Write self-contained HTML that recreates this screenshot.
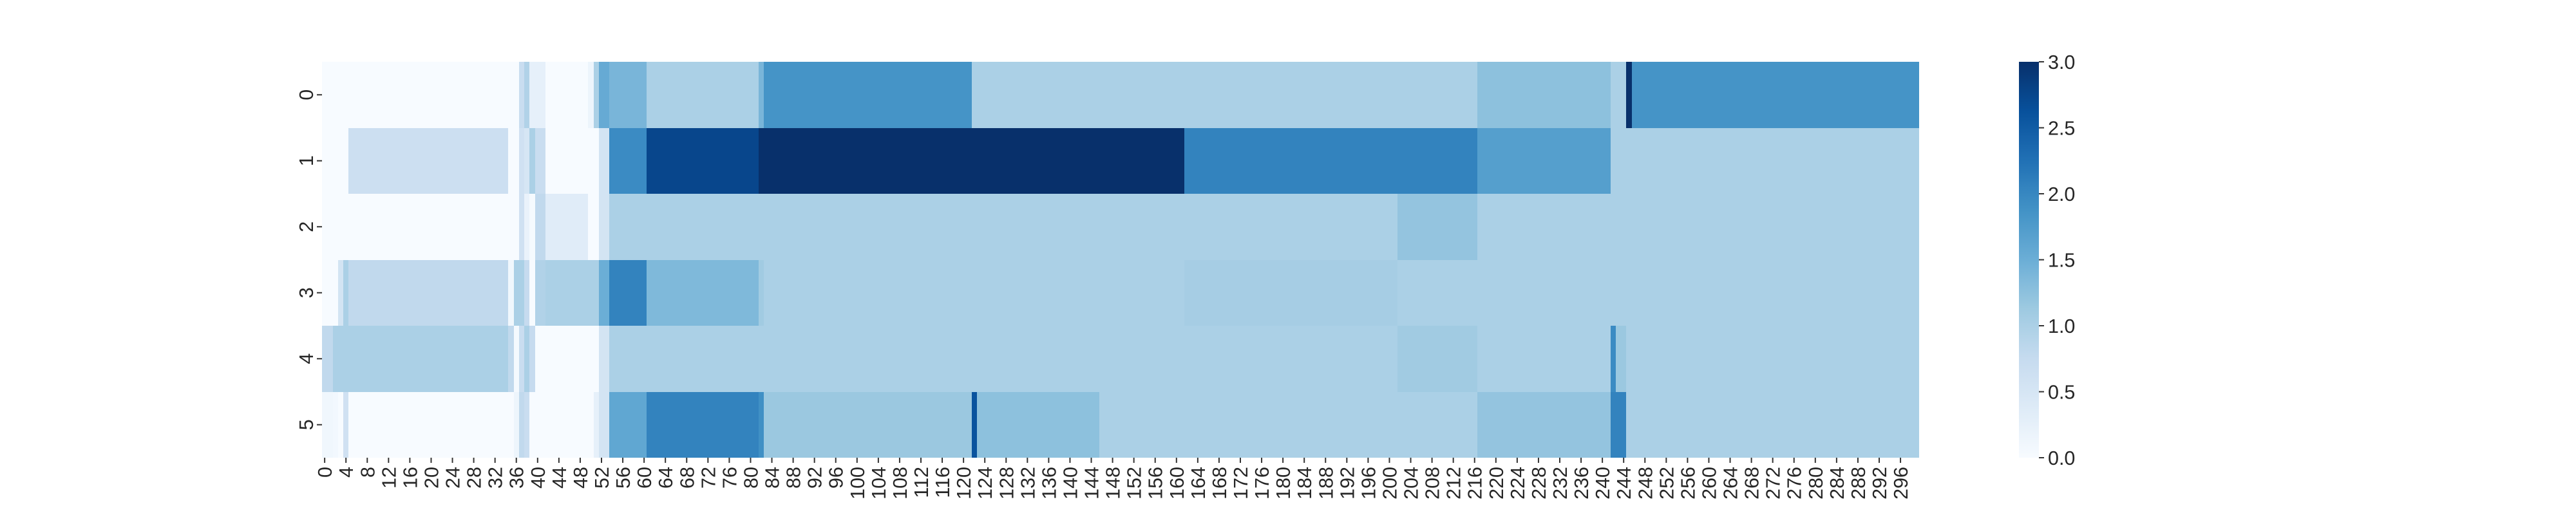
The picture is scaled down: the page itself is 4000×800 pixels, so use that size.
<!DOCTYPE html>
<html><head><meta charset="utf-8"><style>
html,body{margin:0;padding:0;background:#fff;}
svg{display:block;font-family:"Liberation Sans","DejaVu Sans",sans-serif;}
</style></head><body>
<svg id="chart" width="4000" height="800" viewBox="0 0 4000 800" xmlns="http://www.w3.org/2000/svg">
<defs><linearGradient id="cbGrad" x1="0" y1="1" x2="0" y2="0"></linearGradient></defs>
<g id="cells" shape-rendering="crispEdges"></g>
<g id="xticks"></g>
<g id="yticks"></g>
<rect x="3135" y="96" width="31" height="615" fill="url(#cbGrad)"/>
<g id="cbticks"></g>
</svg>
<script>
// run-length encoded rows: [count, value]
const row0Runs=[[37,0],[1,0.7],[1,0.95],[3,0.25],[8,0],[1,0.15],[1,1.0],[2,1.55],[7,1.4],[21,1.0],[1,1.4],[39,1.85],[95,1.0],[25,1.25],[3,1.0],[1,3.0],[54,1.85]];
const row1Runs=[[5,0],[30,0.65],[2,0],[1,0.6],[1,0.5],[1,1.0],[2,0.7],[10,0],[2,0.55],[7,1.95],[21,2.75],[80,3.0],[55,2.05],[25,1.7],[58,1.0]];
const row2Runs=[[37,0],[1,0.6],[1,0.2],[1,0.03],[2,0.8],[8,0.35],[2,0],[2,0.55],[148,1.0],[15,1.2],[83,1.0]];
const row3Runs=[[3,0],[1,0.55],[1,1.0],[30,0.8],[1,0.1],[2,1.0],[1,0.75],[1,0],[2,0.95],[10,1.0],[2,1.5],[7,2.05],[21,1.35],[1,1.1],[79,1.0],[40,1.05],[98,1.0]];
const row4Runs=[[2,0.8],[33,1.0],[1,0.8],[1,0.05],[1,0.7],[1,1.0],[1,0.75],[12,0],[2,0.55],[148,1.0],[15,1.1],[25,1.0],[1,1.95],[2,1.15],[55,1.0]];
const row5Runs=[[2,0.1],[1,0.07],[1,0],[1,0.6],[31,0],[1,0.15],[1,0.8],[1,0.7],[12,0],[1,0.25],[2,0.55],[7,1.6],[21,2.05],[1,1.9],[39,1.15],[1,2.6],[23,1.25],[71,1.0],[25,1.2],[3,2.05],[55,1.0]];
const rowLabels=["0","1","2","3","4","5"];
const cbTicks=[0,0.5,1.0,1.5,2.0,2.5,3.0];
const vmin=0, vmax=3, nCols=300, xTickStep=4;

const NS="http://www.w3.org/2000/svg";
const L=500,R=2980,T=96,B=711;
const rows=[row0Runs,row1Runs,row2Runs,row3Runs,row4Runs,row5Runs];
const cw=(R-L)/nCols, rh=(B-T)/rows.length;
const xScale=c=>L+c*cw, yScale=r=>T+r*rh;
const cbScale=v=>B-(v-vmin)/(vmax-vmin)*(B-T);
const blues=["#f7fbff","#deebf7","#c6dbef","#9ecae1","#6baed6","#4292c6","#2171b5","#08519c","#08306b"];
function hx(h){return [1,3,5].map(i=>parseInt(h.substr(i,2),16));}
function color(v){
  let t=Math.max(0,Math.min(1,(v-vmin)/(vmax-vmin)))*8;
  let i=Math.min(7,Math.floor(t)),f=t-i;
  const a=hx(blues[i]),b=hx(blues[i+1]);
  return "rgb("+a.map((x,k)=>Math.round(x+(b[k]-x)*f)).join(",")+")";
}
function mk(tag,attrs,parent){const e=document.createElementNS(NS,tag);for(const k in attrs)e.setAttribute(k,attrs[k]);parent.appendChild(e);return e;}

const cells=document.getElementById("cells");
rows.forEach((runs,r)=>{
  let c=0;
  runs.forEach(([n,v])=>{
    for(let k=0;k<n;k++,c++){
      const x0=Math.round(xScale(c)),x1=Math.round(xScale(c+1));
      const el=mk("rect",{x:x0,y:Math.round(yScale(r)),width:x1-x0,height:Math.round(yScale(r+1))-Math.round(yScale(r)),fill:color(v)},cells);
      
      
    }
  });
});

const xg=document.getElementById("xticks");
for(let c=0;c<nCols;c+=xTickStep){
  const x=xScale(c+0.5);
  const tk=mk("line",{x1:x,x2:x,y1:B,y2:B+8,stroke:"#333","stroke-width":2},xg);
  
  
  const t=mk("text",{x:0,y:0,transform:`translate(${x+11},${B+14}) rotate(-90)`,"text-anchor":"end","font-size":"30.5",fill:"#262626"},xg);
  t.textContent=String(c);
  
  
}
const yg=document.getElementById("yticks");
rowLabels.forEach((lab,r)=>{
  const y=yScale(r+0.5);
  const tk=mk("line",{x1:L-8,x2:L,y1:y,y2:y,stroke:"#333","stroke-width":2},yg);
  
  
  const t=mk("text",{x:0,y:0,transform:`translate(${L-14},${y}) rotate(-90)`,"text-anchor":"middle","font-size":"30.5",fill:"#262626"},yg);
  t.textContent=lab;
  
  
});

const grad=document.getElementById("cbGrad");
for(let i=0;i<=32;i++){
  const v=vmin+(vmax-vmin)*i/32;
  mk("stop",{offset:(i/32),"stop-color":color(v)},grad);
}
const cg=document.getElementById("cbticks");
cbTicks.forEach(v=>{
  const y=cbScale(v);
  const tk=mk("line",{x1:3166,x2:3174,y1:y,y2:y,stroke:"#333","stroke-width":2},cg);
  
  
  const t=mk("text",{x:3180,y:y+11,"font-size":"30.5",fill:"#262626"},cg);
  t.textContent=v.toFixed(1);
  
  
});
</script>
</body></html>
